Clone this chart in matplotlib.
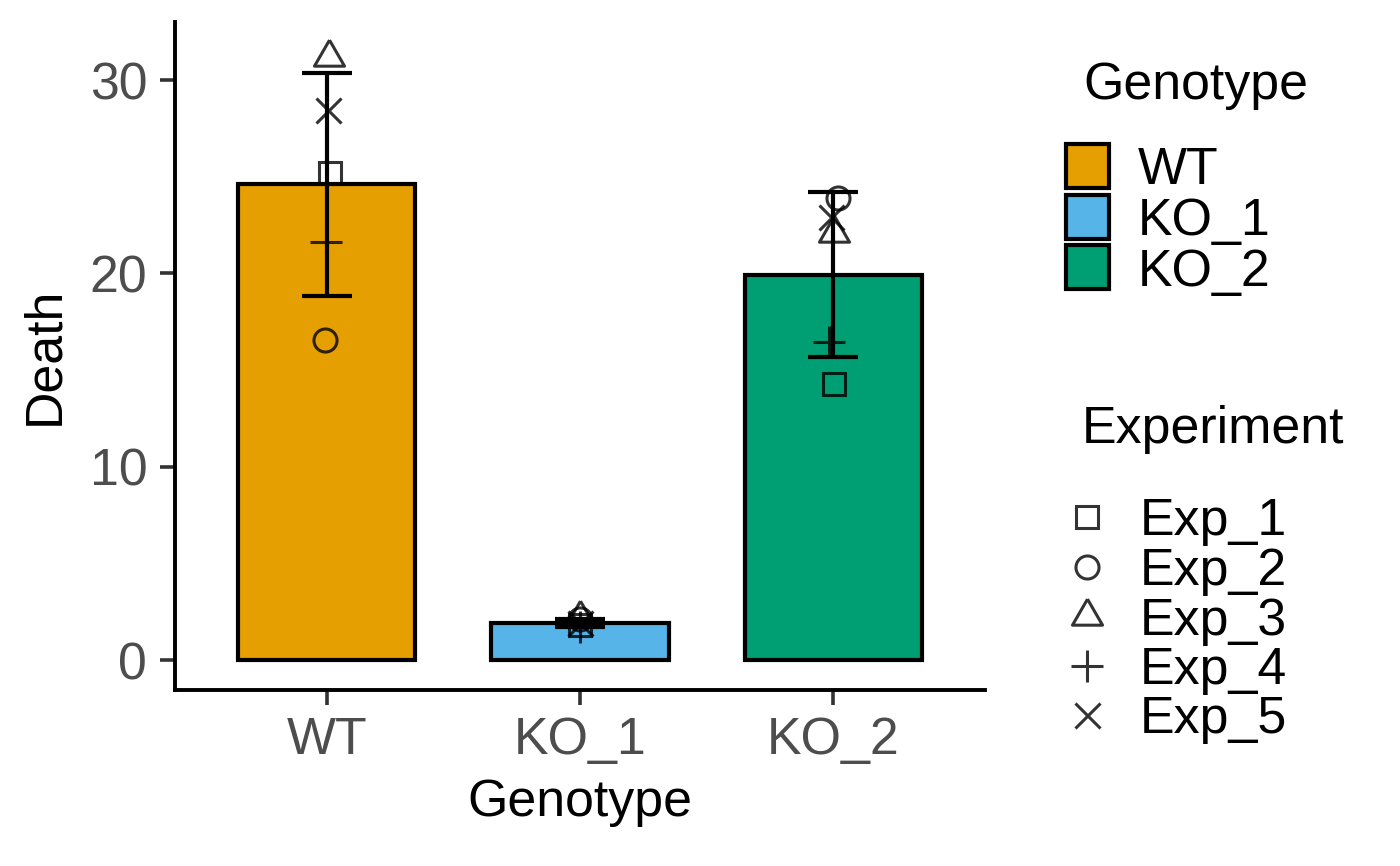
"""Bar chart of Death per Genotype (mean ± SD) with per-experiment points."""

import matplotlib
matplotlib.use('Agg')

import numpy as np
import matplotlib.pyplot as plt
from matplotlib.patches import Rectangle
from matplotlib.lines import Line2D

plt.rcParams['font.family'] = ['Liberation Sans', 'DejaVu Sans']

# ── data ────────────────────────────────────────────────────────────
genotypes = ['WT', 'KO_1', 'KO_2']
experiments = ['Exp_1', 'Exp_2', 'Exp_3', 'Exp_4', 'Exp_5']
death_wt = [25.2, 16.55, 31.2, 21.6, 28.45]
death_ko1 = [1.8, 2.1, 2.2, 1.7, 1.9]
death_ko2 = [14.3, 23.9, 22.1, 16.45, 22.9]
# horizontal jitter of each point
jitter_wt = [0.012, -0.008, 0.008, -0.004, 0.004]
jitter_ko1 = [0.0, 0.0, 0.0, 0.0, 0.0]
jitter_ko2 = [0.004, 0.02, 0.004, -0.016, -0.008]
y_ticks = [0, 10, 20, 30]

# ── styles ──────────────────────────────────────────────────────────
FILL = {'WT': '#E69F00', 'KO_1': '#56B4E9', 'KO_2': '#009E73'}
TRI = [(0, 1), (-0.866, -0.5), (0.866, -0.5), (0, 1)]
MARKERS = {
    'Exp_1': dict(marker='s', ms=7.9),
    'Exp_2': dict(marker='o', ms=8.3),
    'Exp_3': dict(marker=TRI, ms=12.5),
    'Exp_4': dict(marker='+', ms=11.5),
    'Exp_5': dict(marker='x', ms=9.0),
}
PT_COLOR = (0, 0, 0, 0.8)
MEW = 1.1
LW = 1.5
FS = 18.7
GREY = '#4D4D4D'

values = [death_wt, death_ko1, death_ko2]
jitters = [jitter_wt, jitter_ko1, jitter_ko2]
x = np.arange(len(genotypes))
means = np.array([np.mean(v) for v in values])
sds = np.array([np.std(v, ddof=1) for v in values])

fig = plt.figure(figsize=(7, 4.33), dpi=200, facecolor='white')
ax = fig.add_axes([0.125, 0.2032, 0.5786, 0.7714])

ax.bar(x, means, width=0.7, color=[FILL[g] for g in genotypes],
       edgecolor='black', linewidth=LW, zorder=1)

for j, exp in enumerate(experiments):
    xs = [x[i] + jitters[i][j] for i in range(len(genotypes))]
    ys = [values[i][j] for i in range(len(genotypes))]
    ax.plot(xs, ys, linestyle='none', color=PT_COLOR, mfc='none',
            mec=PT_COLOR, mew=MEW, zorder=2, **MARKERS[exp])

ax.vlines(x, means - sds, means + sds, color='black', linewidth=LW, zorder=3)
ax.hlines(means + sds, x - 0.1, x + 0.1, color='black', linewidth=LW, zorder=3)
ax.hlines(means - sds, x - 0.1, x + 0.1, color='black', linewidth=LW, zorder=3)

ax.set_xlim(-0.6, 2.6)
ax.set_ylim(-1.55, 33.0)
ax.set_xticks(x)
ax.set_xticklabels(genotypes)
ax.set_yticks(y_ticks)
ax.tick_params(axis='both', length=5.5, width=1.3, color='#333333',
               labelcolor=GREY, labelsize=FS)
ax.tick_params(axis='x', pad=4)
ax.tick_params(axis='y', pad=4.5)
for s in ['top', 'right']:
    ax.spines[s].set_visible(False)
for s in ['left', 'bottom']:
    ax.spines[s].set_linewidth(1.4)
    ax.spines[s].set_color('black')
ax.set_xlabel('Genotype', fontsize=FS, labelpad=4.5)
ax.set_ylabel('Death', fontsize=FS, labelpad=7.5)

# ── legends (overlay in pixel coordinates) ──────────────────────────
lg = fig.add_axes([0, 0, 1, 1], facecolor='none')
lg.set_xlim(0, 1400)
lg.set_ylim(866, 0)
lg.axis('off')

lg.text(1083, 99, 'Genotype', fontsize=FS, ha='left', va='baseline')
for k, g in enumerate(genotypes):
    cy = 166 + k * 50.7
    lg.add_patch(Rectangle((1066, cy - 22), 43, 44, facecolor=FILL[g],
                           edgecolor='black', linewidth=LW))
    lg.text(1138, cy + 18.5, g, fontsize=FS, ha='left', va='baseline')

lg.text(1082, 443, 'Experiment', fontsize=FS, ha='left', va='baseline')
for k, exp in enumerate(experiments):
    cy = 517 + k * 49.5
    lg.add_line(Line2D([1087], [cy], linestyle='none', color=PT_COLOR,
                       mfc='none', mec=PT_COLOR, mew=MEW, **MARKERS[exp]))
    lg.text(1140, cy + 18.5, exp, fontsize=FS, ha='left', va='baseline')

fig.savefig('out.png', dpi=200, facecolor='white')
